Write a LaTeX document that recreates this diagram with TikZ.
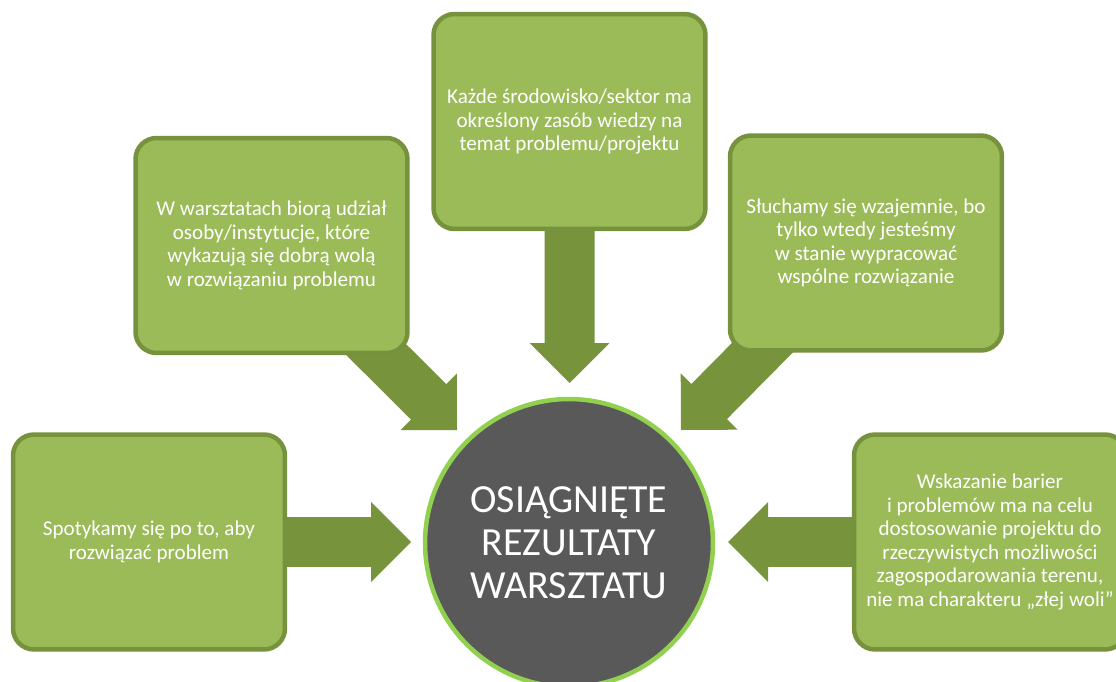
\documentclass[tikz,border=0pt]{standalone}
\usepackage{fontspec}
\setmainfont{Carlito}
\usetikzlibrary{calc}
\definecolor{boxfill}{HTML}{9BBB59}
\definecolor{boxline}{HTML}{76923C}
\definecolor{arrowfill}{HTML}{77933C}
\definecolor{circfill}{HTML}{595959}
\definecolor{circline}{HTML}{92D050}
\tikzset{
  greenbox/.style={draw=boxline, fill=boxfill, line width=0.09cm, rounded corners=0.42cm,
    minimum width=5.44cm, minimum height=4.3cm, align=center, text=white,
    font=\fontsize{12}{13.4}\selectfont, inner sep=0pt},
  centre/.style={circle, draw=circline, fill=circfill, line width=0.09cm,
    minimum size=5.76cm, align=center, text=white, inner sep=0pt,
    font=\fontsize{22.7}{24.5}\selectfont},
  blockarrow/.style={fill=arrowfill}
}
\newcommand\blockarr[2]{%
  \coordinate (m) at ($(#2)!0.8cm!(#1)$);
  \fill[blockarrow] ($(#1)!0.5cm!90:(#2)$) -- ($(m)!0.5cm!-90:(#1)$) --
    ($(m)!0.8cm!-90:(#1)$) -- (#2) -- ($(m)!0.8cm!90:(#1)$) --
    ($(m)!0.5cm!90:(#1)$) -- ($(#1)!0.5cm!-90:(#2)$) -- cycle;}
\begin{document}
\begin{tikzpicture}[x=0.02cm,y=-0.02cm]
\useasboundingbox (0,0) rectangle (1116,682);
% anchor points of the boxes and tips
\coordinate (ctop) at (569.5,121.5);
\coordinate (cul) at (271.5,245.5);
\coordinate (cur) at (866,243);
\coordinate (cll) at (149,542);
\coordinate (clr) at (990,542);
\coordinate (ttop) at (569.5,383);
\coordinate (tul) at (457,430);
\coordinate (tur) at (681,430);
\coordinate (tll) at (411,542);
\coordinate (tlr) at (728,542);
% arrows (behind boxes)
\blockarr{ctop}{ttop}
\blockarr{cul}{tul}
\blockarr{cur}{tur}
\blockarr{cll}{tll}
\blockarr{clr}{tlr}
% boxes
\node[greenbox] (top) at (ctop) {Każde środowisko/sektor ma\\określony zasób wiedzy na\\temat problemu/projektu};
\node[greenbox] (ul) at (cul) {W warsztatach biorą udział\\osoby/instytucje, które\\wykazują się dobrą wolą\\w rozwiązaniu problemu};
\node[greenbox] (ur) at (cur) {Słuchamy się wzajemnie, bo\\tylko wtedy jesteśmy\\w stanie wypracować\\wspólne rozwiązanie};
\node[greenbox] (ll) at (cll) {Spotykamy się po to, aby\\rozwiązać problem};
\node[greenbox] (lr) at (clr) {Wskazanie barier\\i problemów ma na celu\\dostosowanie projektu do\\rzeczywistych możliwości\\zagospodarowania terenu,\\nie ma charakteru „złej woli”};
% centre
\node[centre] (c) at (569,543) {OSIĄGNIĘTE\\REZULTATY\\WARSZTATU};
\end{tikzpicture}
\end{document}
